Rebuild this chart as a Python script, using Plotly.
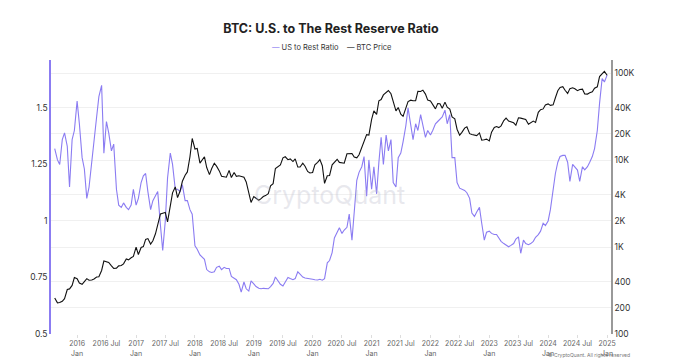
import pandas as pd
import plotly.graph_objects as go

# Semi-monthly samples (1st and 15th), starting 2015-08-15
ratio = [
    # 2015 (Aug15 .. Dec15)
    1.32, 1.27, 1.25, 1.36, 1.39, 1.33, 1.15, 1.36, 1.40,
    # 2016
    1.53, 1.43, 1.28, 1.23, 1.10, 1.15, 1.27, 1.38, 1.46, 1.55, 1.60, 1.30,
    1.44, 1.39, 1.31, 1.34, 1.14, 1.07, 1.06, 1.08, 1.06, 1.05, 1.07, 1.14,
    # 2017
    1.07, 1.10, 1.17, 1.20, 1.21, 1.13, 1.05, 1.09, 1.11, 1.13, 0.98, 0.87,
    1.00, 1.19, 1.30, 1.25, 1.14, 1.14, 1.13, 1.16, 1.09, 1.09, 1.05, 1.03,
    # 2018
    0.89, 0.875, 0.85, 0.84, 0.83, 0.785, 0.775, 0.772, 0.775, 0.795, 0.80, 0.785,
    0.795, 0.79, 0.79, 0.755, 0.745, 0.74, 0.72, 0.685, 0.73, 0.70, 0.69, 0.735,
    # 2019
    0.722, 0.71, 0.702, 0.70, 0.702, 0.70, 0.70, 0.71, 0.724, 0.752, 0.732, 0.72,
    0.712, 0.732, 0.75, 0.745, 0.74, 0.745, 0.775, 0.765, 0.752, 0.748, 0.745, 0.742,
    # 2020
    0.742, 0.74, 0.739, 0.742, 0.738, 0.745, 0.815, 0.825, 0.86, 0.925, 0.948, 0.97,
    0.945, 0.96, 0.972, 1.03, 0.915, 1.05, 1.18, 1.215, 1.24, 1.285, 1.11, 1.27,
    # 2021
    1.14, 1.24, 1.12, 1.26, 1.37, 1.25, 1.38, 1.31, 1.36, 1.17, 1.15, 1.28,
    1.30, 1.35, 1.42, 1.50, 1.42, 1.36, 1.43, 1.40, 1.47, 1.42, 1.37, 1.40,
    # 2022
    1.38, 1.40, 1.43, 1.44, 1.45, 1.46, 1.49, 1.43, 1.47, 1.28, 1.28, 1.17,
    1.145, 1.14, 1.135, 1.125, 1.10, 1.035, 1.02, 1.04, 1.06, 0.99, 0.915, 0.95,
    # 2023
    0.955, 0.945, 0.94, 0.94, 0.925, 0.91, 0.90, 0.895, 0.886, 0.892, 0.90, 0.92,
    0.93, 0.857, 0.915, 0.90, 0.895, 0.90, 0.91, 0.928, 0.94, 0.955, 0.99, 0.98,
    # 2024
    1.00, 1.05, 1.15, 1.21, 1.26, 1.285, 1.29, 1.29, 1.26, 1.175, 1.25, 1.24,
    1.225, 1.175, 1.24, 1.226, 1.24, 1.26, 1.285, 1.32, 1.40, 1.52, 1.63, 1.615,
    # 2025
    1.645,
]

btc_price = [
    # 2015
    260, 228, 230, 238, 255, 325, 330, 362, 445,
    # 2016
    432, 385, 372, 400, 433, 415, 417, 429, 452, 456, 537, 690,
    677, 665, 606, 567, 572, 607, 613, 640, 730, 712, 752, 780,
    # 2017
    998, 820, 989, 1010, 1222, 1250, 1080, 1180, 1420, 1760, 2400, 2450,
    2500, 1950, 2870, 4200, 4900, 3700, 4400, 5700, 6700, 7300, 10900, 17700,
    # 2018
    13400, 13600, 9200, 10100, 10900, 8200, 6800, 8000, 9200, 8500, 7500, 6500,
    6350, 6350, 7600, 6300, 7200, 6500, 6600, 6500, 6350, 5600, 4200, 3250,
    # 2019
    3800, 3600, 3450, 3600, 3800, 3900, 4100, 5050, 5350, 8000, 8550, 8800,
    10600, 10900, 10100, 10300, 9600, 10300, 8300, 8300, 9200, 8500, 7400, 7100,
    # 2020
    7200, 8800, 9400, 10100, 8600, 5400, 6600, 6650, 8800, 9300, 10200, 9400,
    9200, 9200, 11800, 11900, 11900, 10800, 10600, 11500, 13800, 15900, 19600, 19400,
    # 2021
    29400, 36800, 33500, 48000, 49600, 56000, 59000, 63000, 57800, 46500, 36700, 40200,
    33600, 31800, 39900, 47000, 48800, 48000, 48200, 61600, 61300, 63600, 57300, 48900,
    # 2022
    47700, 43100, 38700, 44600, 44400, 39300, 46300, 40500, 38500, 31300, 29800, 22600,
    19300, 20800, 23300, 24100, 20100, 19700, 19300, 19100, 20500, 16900, 17100, 17400,
    # 2023
    16600, 20900, 23700, 24300, 23600, 24700, 28400, 30300, 28000, 27200, 26800, 25100,
    30600, 30300, 29700, 29200, 25800, 26600, 28000, 27100, 35400, 37900, 38700, 43000,
    # 2024
    44200, 42500, 43100, 52000, 62500, 68300, 69700, 63400, 58300, 66200, 67700, 66000,
    62800, 64800, 65300, 57600, 57300, 59200, 60800, 67000, 69400, 91000, 97200, 104300,
    # 2025
    94400,
]

dates = pd.date_range("2015-08-15", periods=len(ratio), freq="SMS")

x_tick_vals = []
x_tick_text = []
for yr in range(2016, 2026):
    x_tick_vals.append(f"{yr}-01-01")
    x_tick_text.append(f"{yr}<br>Jan")
    if yr < 2025:
        x_tick_vals.append(f"{yr}-07-01")
        x_tick_text.append(f"{yr} Jul")

left_ticks = [0.5, 0.75, 1, 1.25, 1.5]
left_text = ["0.5", "0.75", "1", "1.25", "1.5"]
right_ticks = [100, 200, 400, 1000, 2000, 4000, 10000, 20000, 40000, 100000]
right_text = ["100", "200", "400", "1K", "2K", "4K", "10K", "20K", "40K", "100K"]

PURPLE = "#8b7cf2"
series_names = ["US to Rest Ratio", "BTC Price"]

fig = go.Figure()
fig.add_trace(go.Scatter(x=dates, y=ratio, name=series_names[0], mode="lines",
                         line=dict(color=PURPLE, width=1.1), yaxis="y"))
fig.add_trace(go.Scatter(x=dates, y=btc_price, name=series_names[1], mode="lines",
                         line=dict(color="#111111", width=1.1), yaxis="y2"))

fig.update_layout(
    width=687, height=361,
    margin=dict(l=51, r=76, t=60, b=27),
    paper_bgcolor="white", plot_bgcolor="white",
    font=dict(family="Inter", color="#333333", size=9),
    title=dict(text="<b>BTC: U.S. to The Rest Reserve Ratio</b>", x=0.5, xref="paper",
               xanchor="center", y=1 - 29 / 361, yanchor="middle",
               font=dict(size=12.5, color="#222222", family="Inter")),
    showlegend=False,
    xaxis=dict(range=["2015-07-23", "2025-01-25"], tickvals=x_tick_vals, ticktext=x_tick_text,
               showgrid=False, zeroline=False, showline=False, automargin=False,
               ticks="outside", ticklen=3, tickcolor="#dddddd",
               tickfont=dict(size=7, color="#666666")),
    yaxis=dict(range=[0.5, 1.712], tickvals=left_ticks, ticktext=left_text, automargin=False,
               showgrid=False, zeroline=False, showline=True, linecolor=PURPLE, linewidth=1.5,
               ticks="", tickfont=dict(size=8.5, color="#333333")),
    yaxis2=dict(type="log", range=[2, 5.15], overlaying="y", side="right", automargin=False,
                tickvals=right_ticks, ticktext=right_text,
                showgrid=True, gridcolor="#f0f0f0", gridwidth=1, zeroline=False,
                showline=True, linecolor="#999999", linewidth=1.5,
                ticks="", tickfont=dict(size=8.5, color="#333333")),
)

legend_text = (f"<span style='color:{PURPLE}'>—</span> {series_names[0]}"
               f"&nbsp;&nbsp;&nbsp;&nbsp;<span style='color:#222222'>—</span> {series_names[1]}")
fig.add_annotation(text=legend_text, xref="paper", yref="paper", x=0.501, y=1.047,
                   xanchor="center", yanchor="middle", showarrow=False,
                   font=dict(size=7.5, color="#333333", family="Inter"))

fig.add_annotation(text="CryptoQuant", xref="paper", yref="paper", x=0.498, y=0.507,
                   showarrow=False, font=dict(size=25, color="rgba(190,190,205,0.35)", family="Inter"))
fig.add_annotation(text="© CryptoQuant. All rights reserved", xref="paper", yref="paper",
                   x=1.0375, y=-0.078, xanchor="right", yanchor="middle", showarrow=False,
                   font=dict(size=5, color="#777777"))

fig.write_html("out.html", config={"displayModeBar": False},
               post_script="document.body.style.margin='0';")
